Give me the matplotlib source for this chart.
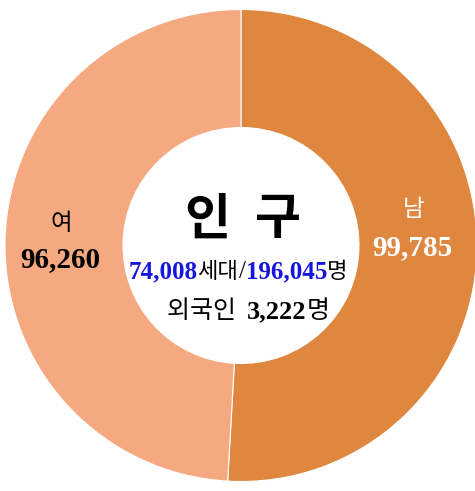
import matplotlib
matplotlib.use('Agg')
import matplotlib.pyplot as plt

# data
labels = ['남', '여']
values = [99785, 96260]
value_labels = ['99,785', '96,260']
title_chars = ['인', '구']
households = '74,008'
total_pop = '196,045'
foreigners = '3,222'

colors = ['#DF873F', '#F5A981']
serif = ['Liberation Serif', 'Noto Sans CJK KR']
kr = ['Noto Sans CJK KR', 'DejaVu Sans']

fig = plt.figure(figsize=(4.75, 4.91), dpi=100)
ax = fig.add_axes([5 / 475, 9.5 / 491, 472 / 475, 472 / 491])

ax.pie(values, colors=colors, startangle=90, counterclock=False, radius=1.0,
       wedgeprops=dict(width=0.5, edgecolor='white', linewidth=0.8))
# pie resets the limits, so set them afterwards
ax.set_xlim(-1, 1)
ax.set_ylim(-1, 1)
ax.set_aspect('auto')
ax.axis('off')


def px(x, y):
    # reference pixel (from top-left) -> data coords
    return (x - 241) / 236, (245.5 - y) / 236


# side labels
x, y = px(61, 223)
ax.text(x, y, labels[1], family=kr, fontsize=17, weight='light', color='black',
        ha='center', va='center')
x, y = px(60, 260)
ax.text(x, y, value_labels[1], family=serif, fontsize=21, weight='bold', color='black',
        ha='center', va='center')
x, y = px(414, 210)
ax.text(x, y, labels[0], family=kr, fontsize=17, weight='light', color='white',
        ha='center', va='center')
x, y = px(412, 248)
ax.text(x, y, value_labels[0], family=serif, fontsize=21, weight='bold', color='white',
        ha='center', va='center')

# center title, two glyphs spaced apart
for ch, xp in zip(title_chars, [207, 278]):
    x, y = px(xp, 220)
    ax.text(x, y, ch, family=kr, fontsize=36, weight='bold', color='black',
            ha='center', va='center')

fig.canvas.draw()
rend = fig.canvas.get_renderer()
scale = 2 / 472  # data units per pixel


def mixed_line(parts, cx, base_y):
    texts = []
    for s, fam, size, wt, col in parts:
        texts.append(ax.text(0, base_y, s, family=fam, fontsize=size, weight=wt,
                             color=col, ha='left', va='baseline'))
    widths = [t.get_window_extent(rend).width for t in texts]
    start = cx - sum(widths) * scale / 2
    for t, w in zip(texts, widths):
        t.set_x(start)
        start += w * scale


cx, by = px(238, 278)
mixed_line([(households, serif, 18, 'bold', '#1515E0'),
            ('세대', kr, 16, 'normal', 'black'),
            ('/', serif, 18, 'normal', 'black'),
            (total_pop, serif, 18, 'bold', '#1515E0'),
            ('명', kr, 16, 'normal', 'black')], cx, by)

cx, by = px(248, 318)
mixed_line([('외국인  ', kr, 18, 'medium', 'black'),
            (foreigners, serif, 19, 'bold', 'black'),
            ('명', kr, 18, 'medium', 'black')], cx, by)

fig.savefig('out.png', dpi=100, facecolor='white')
